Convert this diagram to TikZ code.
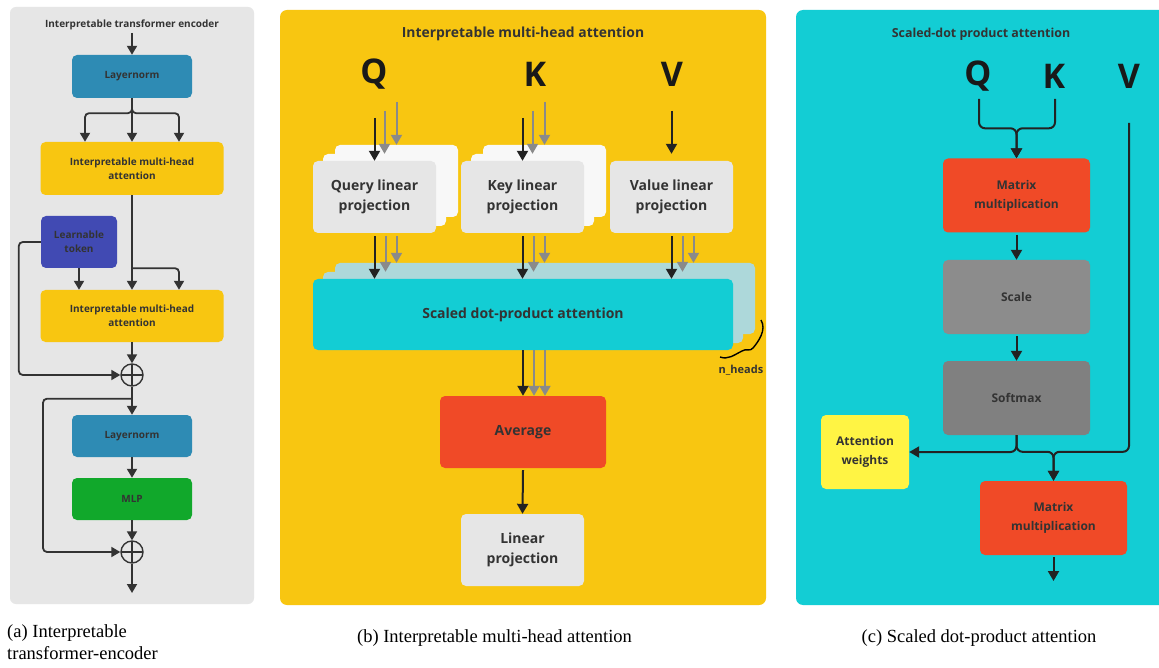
\documentclass[tikz,border=0pt]{standalone}
\usepackage{fontspec}
\setmainfont{Liberation Serif}
\newfontfamily\osans{Open Sans}
\usetikzlibrary{arrows.meta,calc}
\definecolor{panelgray}{HTML}{E6E6E6}
\definecolor{lnblue}{HTML}{2E8BB4}
\definecolor{attyellow}{HTML}{F8C611}
\definecolor{tokblue}{HTML}{414AB3}
\definecolor{mlpgreen}{HTML}{11A82B}
\definecolor{projgray}{HTML}{E6E6E6}
\definecolor{stackwhite}{HTML}{F8F8F8}
\definecolor{sdpafront}{HTML}{13CDD4}
\definecolor{sdpaback}{HTML}{ADD8DA}
\definecolor{avgred}{HTML}{F04A27}
\definecolor{scalegray}{HTML}{8C8C8C}
\definecolor{softgray}{HTML}{808080}
\definecolor{awyellow}{HTML}{FFF444}
\definecolor{txt}{HTML}{333333}
\definecolor{darkline}{HTML}{333333}
\definecolor{blackline}{HTML}{222222}
\definecolor{grayline}{HTML}{8A8A8A}
\tikzset{
  box/.style={draw=none, rounded corners=5pt, align=center, font=\osans\bfseries, text=txt, inner sep=0pt},
  abox/.style={box, font=\osans\bfseries\fontsize{10}{14}\selectfont},
  bbox/.style={box, font=\osans\bfseries\fontsize{14}{20}\selectfont, minimum width=123pt, minimum height=72pt},
  cbox/.style={box, font=\osans\bfseries\fontsize{12}{19}\selectfont, minimum width=147pt, minimum height=74pt},
  aarr/.style={-{Triangle[length=9pt,width=10pt]}, line width=1.8pt, draw=darkline},
  barr/.style={-{Triangle[length=10pt,width=11pt]}, line width=2pt, draw=blackline},
  garr/.style={-{Triangle[length=10pt,width=11pt]}, line width=2pt, draw=grayline},
  carr/.style={-{Triangle[length=10pt,width=11pt]}, line width=2pt, draw=blackline},
  plus/.style={circle, draw=darkline, line width=1.4pt, minimum size=22pt, inner sep=0pt,
    path picture={\draw[darkline, line width=1.4pt] (path picture bounding box.north) -- (path picture bounding box.south) (path picture bounding box.west) -- (path picture bounding box.east);}},
  big/.style={font=\osans\bfseries\fontsize{34}{34}\selectfont, text=black!90, inner sep=0pt},
  captxt/.style={font=\fontsize{18.5}{22}\selectfont, inner sep=0pt, align=left}
}
\begin{document}
\begin{tikzpicture}[x=1pt,y=-1pt]
\useasboundingbox (0,0) rectangle (1159,668);
\fill[white] (0,0) rectangle (1159,668);
% ---------- panel a ----------
\fill[panelgray, rounded corners=6pt] (10,7) rectangle (254,604);
\node[abox] (ta) at (132,25) {Interpretable transformer encoder};
\coordinate (ina) at (132,33);
\node[abox, fill=lnblue, minimum width=120pt, minimum height=43pt] (ln1) at (132,76.5) {Layernorm};
\node[abox, fill=attyellow, minimum width=183pt, minimum height=53pt] (mha1) at (132,168.5) {Interpretable multi-head\\attention};
\node[abox, fill=tokblue, minimum width=76pt, minimum height=52pt] (tok) at (79,242) {Learnable\\token};
\node[abox, fill=attyellow, minimum width=183pt, minimum height=52pt] (mha2) at (132,316) {Interpretable multi-head\\attention};
\node[plus] (p1) at (132,375) {};
\node[abox, fill=lnblue, minimum width=120pt, minimum height=42pt] (ln2) at (132,436) {Layernorm};
\node[abox, fill=mlpgreen, minimum width=120pt, minimum height=42pt] (mlp) at (132,499) {MLP};
\node[plus] (p2) at (132,552) {};
\coordinate (outa) at (132,593);
\draw[aarr] (ina) -- (ln1.north);
\draw[aarr, rounded corners=4pt] (ln1.south) -- ++(0,-15pt) -| ([xshift=-47pt]mha1.north);
\draw[aarr, rounded corners=4pt] (ln1.south) -- ++(0,-15pt) -| ([xshift=47pt]mha1.north);
\draw[aarr] (ln1.south) -- (mha1.north);
\draw[aarr] (mha1.south) -- (mha2.north);
\draw[aarr, rounded corners=4pt] ([yshift=-73pt]mha1.south) -| ([xshift=47pt]mha2.north);
\draw[aarr] (tok.south) -- (tok.south |- mha2.north);
\draw[aarr, rounded corners=4pt] (tok.west) -- ++(-22pt,0) |- (p1.west);
\draw[aarr] (mha2.south) -- (p1.north);
\draw[aarr] (p1.south) -- (ln2.north);
\draw[aarr, rounded corners=4pt] ([yshift=-12pt]p1.south) -- ++(-89pt,0) |- (p2.west);
\draw[aarr] (ln2.south) -- (mlp.north);
\draw[aarr] (mlp.south) -- (p2.north);
\draw[aarr] (p2.south) -- (outa);
\node[captxt, anchor=north west] (capa) at (7,624) {(a) Interpretable\\transformer-encoder};
% ---------- panel b ----------
\fill[attyellow, rounded corners=7pt] (280,10) rectangle (766,605);
\node[box, font=\osans\bfseries\fontsize{13.9}{16}\selectfont] (tb) at (523,34) {Interpretable multi-head attention};
\node[big] (Qb) at (374,74) {Q};
\node[big] (Kb) at (535,74) {K};
\node[big] (Vb) at (672,74) {V};
% query stack
\node[bbox, fill=stackwhite] (qp3) at (396.5,181) {};
\node[bbox, fill=stackwhite] (qp2) at (384.5,190) {};
\node[bbox, fill=projgray] (qp) at (374.5,197) {Query linear\\projection};
% key stack
\node[bbox, fill=stackwhite] (kp3) at (544.5,181) {};
\node[bbox, fill=stackwhite] (kp2) at (532.5,190) {};
\node[bbox, fill=projgray] (kp) at (522.5,197) {Key linear\\projection};
% value
\node[bbox, fill=projgray] (vp) at (671.5,197) {Value linear\\projection};
% sdpa stack
\node[box, fill=sdpaback, minimum width=420pt, minimum height=71pt] (sd3) at (545,298.5) {};
\node[box, fill=sdpaback, minimum width=420pt, minimum height=71pt] (sd2) at (533,307.5) {};
\node[box, fill=sdpafront, minimum width=420pt, minimum height=71pt, font=\osans\bfseries\fontsize{14}{16}\selectfont] (sd) at (523,314.5) {Scaled dot-product attention};
\node[box, fill=avgred, minimum width=166pt, minimum height=72pt, font=\osans\bfseries\fontsize{14}{16}\selectfont] (avg) at (523,432) {Average};
\node[bbox, fill=projgray] (lp) at (522.5,550) {Linear\\projection};
% input arrows
\draw[barr] ([yshift=43pt]qp.north) -- (qp.north);
\draw[garr] ([yshift=43pt]qp2.north) -- (qp2.north);
\draw[garr] ([yshift=43pt]qp3.north) -- (qp3.north);
\draw[barr] ([yshift=43pt]kp.north) -- (kp.north);
\draw[garr] ([yshift=43pt]kp2.north) -- (kp2.north);
\draw[garr] ([yshift=43pt]kp3.north) -- (kp3.north);
\draw[barr, shorten >=7pt] ([yshift=50pt]vp.north) -- (vp.north);
% to sdpa
\foreach \p in {qp,kp,vp}{
  \draw[garr] ([xshift=22pt,yshift=-3pt]\p.south) -- ([xshift=22pt]\p.south |- sd3.north);
  \draw[garr] ([xshift=11pt,yshift=-3pt]\p.south) -- ([xshift=11pt]\p.south |- sd2.north);
  \draw[barr] ([yshift=-3pt]\p.south) -- (\p.south |- sd.north);
}
\draw[garr] ([xshift=22pt]sd.south) -- ([xshift=22pt]avg.north);
\draw[garr] ([xshift=11pt]sd.south) -- ([xshift=11pt]avg.north);
\draw[barr] (sd.south) -- (avg.north);
\draw[barr] ([yshift=-2pt]avg.south) -- (lp.north);
% n_heads brace
\draw[line width=1.4pt, black] (761,320) .. controls (767,330) and (758,342) .. (753,348) .. controls (750,352) and (746,348) .. (742,351) .. controls (734,355) and (728,360) .. (720,357);
\node[box, font=\osans\bfseries\fontsize{11}{13}\selectfont, text=txt] (nh) at (741,370) {n\_heads};
\node[captxt, anchor=base] (capb) at (494.5,642) {(b) Interpretable multi-head attention};
% ---------- panel c ----------
\fill[sdpafront, rounded corners=7pt] (796,10) rectangle (1170,605);
\node[box, font=\osans\bfseries\fontsize{12.4}{14}\selectfont] (tc) at (981,34) {Scaled-dot product attention};
\node[big] (Qc) at (978,76) {Q};
\node[big] (Kc) at (1054,76) {K};
\node[big] (Vc) at (1129,76) {V};
\coordinate (qs) at (979,99);
\coordinate (ks) at (1055,99);
\coordinate (vs) at (1129,123);
\node[cbox, fill=avgred] (mm1) at (1016.5,195.5) {Matrix\\multiplication};
\node[cbox, fill=scalegray] (sc) at (1016.5,297) {Scale};
\node[cbox, fill=softgray] (sm) at (1016.5,398) {Softmax};
\node[box, fill=awyellow, minimum width=88pt, minimum height=74pt, font=\osans\bfseries\fontsize{12}{19}\selectfont] (aw) at (865,452) {Attention\\weights};
\node[cbox, fill=avgred] (mm2) at (1053.5,518) {Matrix\\multiplication};
\coordinate (outc) at (1053.5,581);
\draw[carr, rounded corners=6pt] (qs) |- ([yshift=30pt]mm1.north) -- (mm1.north);
\draw[carr, rounded corners=6pt] (ks) |- ([yshift=30pt]mm1.north) -- (mm1.north);
\draw[carr] ([yshift=-2pt]mm1.south) -- (sc.north);
\draw[carr] ([yshift=-2pt]sc.south) -- (sm.north);
\draw[carr, rounded corners=6pt] (sm.south) |- (aw.east);
\draw[carr, rounded corners=6pt] (sm.south) |- ([yshift=29pt]mm2.north) -- (mm2.north);
\draw[carr, rounded corners=6pt] (vs) |- ([yshift=29pt]mm2.north) -- (mm2.north);
\draw[carr] ([yshift=-2pt]mm2.south) -- (outc);
\node[captxt, anchor=base] (capc) at (979,642) {(c) Scaled dot-product attention};
\end{tikzpicture}
\end{document}
